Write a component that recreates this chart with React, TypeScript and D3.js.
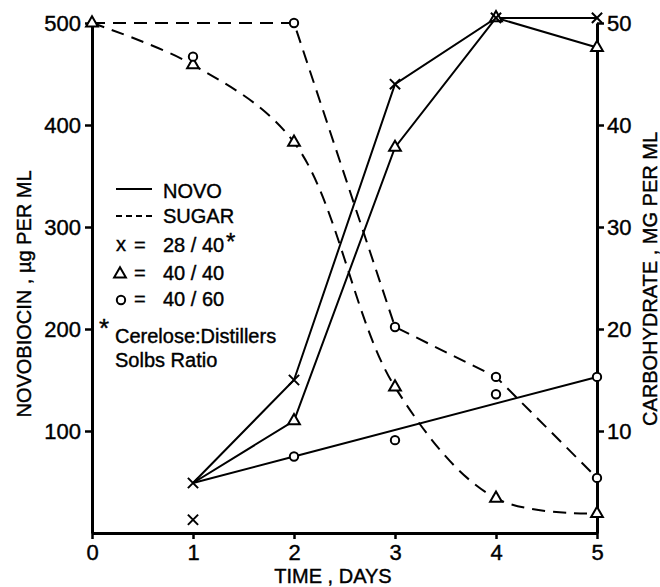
import React, { useEffect, useRef } from 'react'
import * as d3 from 'd3'

const width = 660
const height = 587
const font = 'Liberation Sans, Arial, Helvetica, sans-serif'

// time axis (days) and tick labels
const days = [0, 1, 2, 3, 4, 5]
const novoTicks = [100, 200, 300, 400, 500]
const carbTicks = [10, 20, 30, 40, 50]

// novobiocin, ug per ml (solid lines)
const novo2840 = [
  { day: 1, v: 49 }, { day: 2, v: 150 }, { day: 3, v: 440 }, { day: 4, v: 505 }, { day: 5, v: 505 }
]
const novo2840Extra = [{ day: 1, v: 13 }]
const novo4040 = [
  { day: 1, v: 49 }, { day: 2, v: 110 }, { day: 3, v: 378 }, { day: 4, v: 505 }, { day: 5, v: 476 }
]
const novo4060Line = [{ day: 1, v: 49 }, { day: 2, v: 75 }, { day: 5, v: 153 }]
const novo4060Points = [
  { day: 2, v: 75 }, { day: 3, v: 91 }, { day: 4, v: 136 }, { day: 5, v: 153 }
]

// carbohydrate, mg per ml (dashed lines)
const sugar4040 = [
  { day: 0, v: 50 }, { day: 1, v: 45.9 }, { day: 2, v: 38.3 }, { day: 3, v: 14.3 }, { day: 4, v: 3.4 }, { day: 5, v: 1.9 }
]
const sugar4060Line = [
  { day: 0, v: 50 }, { day: 2, v: 50 }, { day: 3, v: 20.2 }, { day: 4, v: 15.3 }, { day: 5, v: 5.4 }
]
const sugar4060Points = [
  { day: 1, v: 46.7 }, { day: 2, v: 50 }, { day: 3, v: 20.2 }, { day: 4, v: 15.3 }, { day: 5, v: 5.4 }
]

const x = d3.scaleLinear().domain([0, 5]).range([92, 597])
const yL = d3.scaleLinear().domain([0, 500]).range([533, 23])
const yR = d3.scaleLinear().domain([0, 50]).range([533, 23])

const xSym = d3.symbol(d3.symbolX, 70)()
const triSym = d3.symbol(d3.symbolTriangle, 60)()
const circSym = d3.symbol(d3.symbolCircle, 55)()

const Marker = ({ cx, cy, kind }) => {
  const d = kind === 'x' ? xSym : kind === 'tri' ? triSym : circSym
  return (
    <path d={d} transform={`translate(${cx},${cy})`}
      fill={kind === 'x' ? 'none' : 'white'} stroke='black' strokeWidth={2} />
  )
}

const App = () => {
  const xAxis = useRef(null)
  const lAxis = useRef(null)
  const rAxis = useRef(null)

  useEffect(() => {
    const style = (g, size) => {
      g.attr('font-family', font).attr('font-size', size)
      g.select('.domain').attr('stroke-width', 3)
      g.selectAll('.tick line').attr('stroke-width', 2.5)
      g.selectAll('.tick text').attr('fill', 'black').attr('stroke', 'black').attr('stroke-width', 0.4)
    }
    d3.select(xAxis.current)
      .call(d3.axisBottom(x).tickValues(days).tickFormat(d3.format('d')).tickSize(6).tickSizeOuter(0).tickPadding(5))
      .call(g => style(g, 22))
    d3.select(lAxis.current)
      .call(d3.axisLeft(yL).tickValues(novoTicks).tickSize(7).tickSizeOuter(0).tickPadding(4))
      .call(g => style(g, 22))
    d3.select(rAxis.current)
      .call(d3.axisRight(yR).tickValues(carbTicks).tickSize(7).tickSizeOuter(0).tickPadding(3))
      .call(g => style(g, 22))
  }, [])

  const novoLine = d3.line().x(d => x(d.day)).y(d => yL(d.v))
  const sugarCurve = d3.line().x(d => x(d.day)).y(d => yR(d.v)).curve(d3.curveCatmullRom.alpha(0.5))
  const sugarLine = d3.line().x(d => x(d.day)).y(d => yR(d.v))

  const solid = { fill: 'none', stroke: 'black', strokeWidth: 2 }
  const dashed = { ...solid, strokeDasharray: '13 8' }

  return (
    <svg width={width} height={height} style={{ position: 'absolute', left: 0, top: 0 }}>
      <rect width={width} height={height} fill='white' />
      <g ref={xAxis} transform={`translate(0, ${yL(0)})`}></g>
      <g ref={lAxis} transform={`translate(${x(0)}, 0)`}></g>
      <g ref={rAxis} transform={`translate(${x(5)}, 0)`}></g>

      <path d={sugarCurve(sugar4040)} {...dashed} />
      <path d={sugarLine(sugar4060Line)} {...dashed} />
      <path d={novoLine(novo2840)} {...solid} />
      <path d={novoLine(novo4040)} {...solid} />
      <path d={novoLine(novo4060Line)} {...solid} />

      {sugar4040.map((d, i) => <Marker key={'st' + i} cx={x(d.day)} cy={yR(d.v)} kind='tri' />)}
      {sugar4060Points.map((d, i) => <Marker key={'sc' + i} cx={x(d.day)} cy={yR(d.v)} kind='circ' />)}
      {novo4040.slice(1).map((d, i) => <Marker key={'nt' + i} cx={x(d.day)} cy={yL(d.v)} kind='tri' />)}
      {novo4060Points.map((d, i) => <Marker key={'nc' + i} cx={x(d.day)} cy={yL(d.v)} kind='circ' />)}
      {novo2840.concat(novo2840Extra).map((d, i) => <Marker key={'nx' + i} cx={x(d.day)} cy={yL(d.v)} kind='x' />)}

      <g fontFamily={font} fontSize={20} stroke='black' strokeWidth={0.4}>
        {/* axis titles */}
        <text transform='translate(31, 294) rotate(-90)' textAnchor='middle'>
          NOVOBIOCIN , µg PER ML
        </text>
        <text transform='translate(657, 279) rotate(-90)' textAnchor='middle'>
          CARBOHYDRATE , MG PER ML
        </text>
        <text x={333} y={583} textAnchor='middle'>TIME , DAYS</text>

        {/* legend */}
        <line x1={116} x2={152} y1={189} y2={189} strokeWidth={2} />
        <text x={163} y={198}>NOVO</text>
        <line x1={116} x2={152} y1={216} y2={216} strokeWidth={2} strokeDasharray='6 4' />
        <text x={163} y={223}>SUGAR</text>
        <text x={116} y={251}>x</text>
        <text x={134} y={252}>=</text>
        <text x={163} y={252}>28 / 40</text>
        <text x={226} y={250} fontSize={24}>*</text>
        <Marker cx={120} cy={274} kind='tri' />
        <text x={134} y={280}>=</text>
        <text x={163} y={280}>40 / 40</text>
        <Marker cx={121} cy={300} kind='circ' />
        <text x={134} y={306}>=</text>
        <text x={163} y={306}>40 / 60</text>
        <text x={99} y={337} fontSize={26}>*</text>
        <text x={115} y={343}>Cerelose:Distillers</text>
        <text x={115} y={367}>Solbs Ratio</text>
      </g>
    </svg>
  )
}

export default App
